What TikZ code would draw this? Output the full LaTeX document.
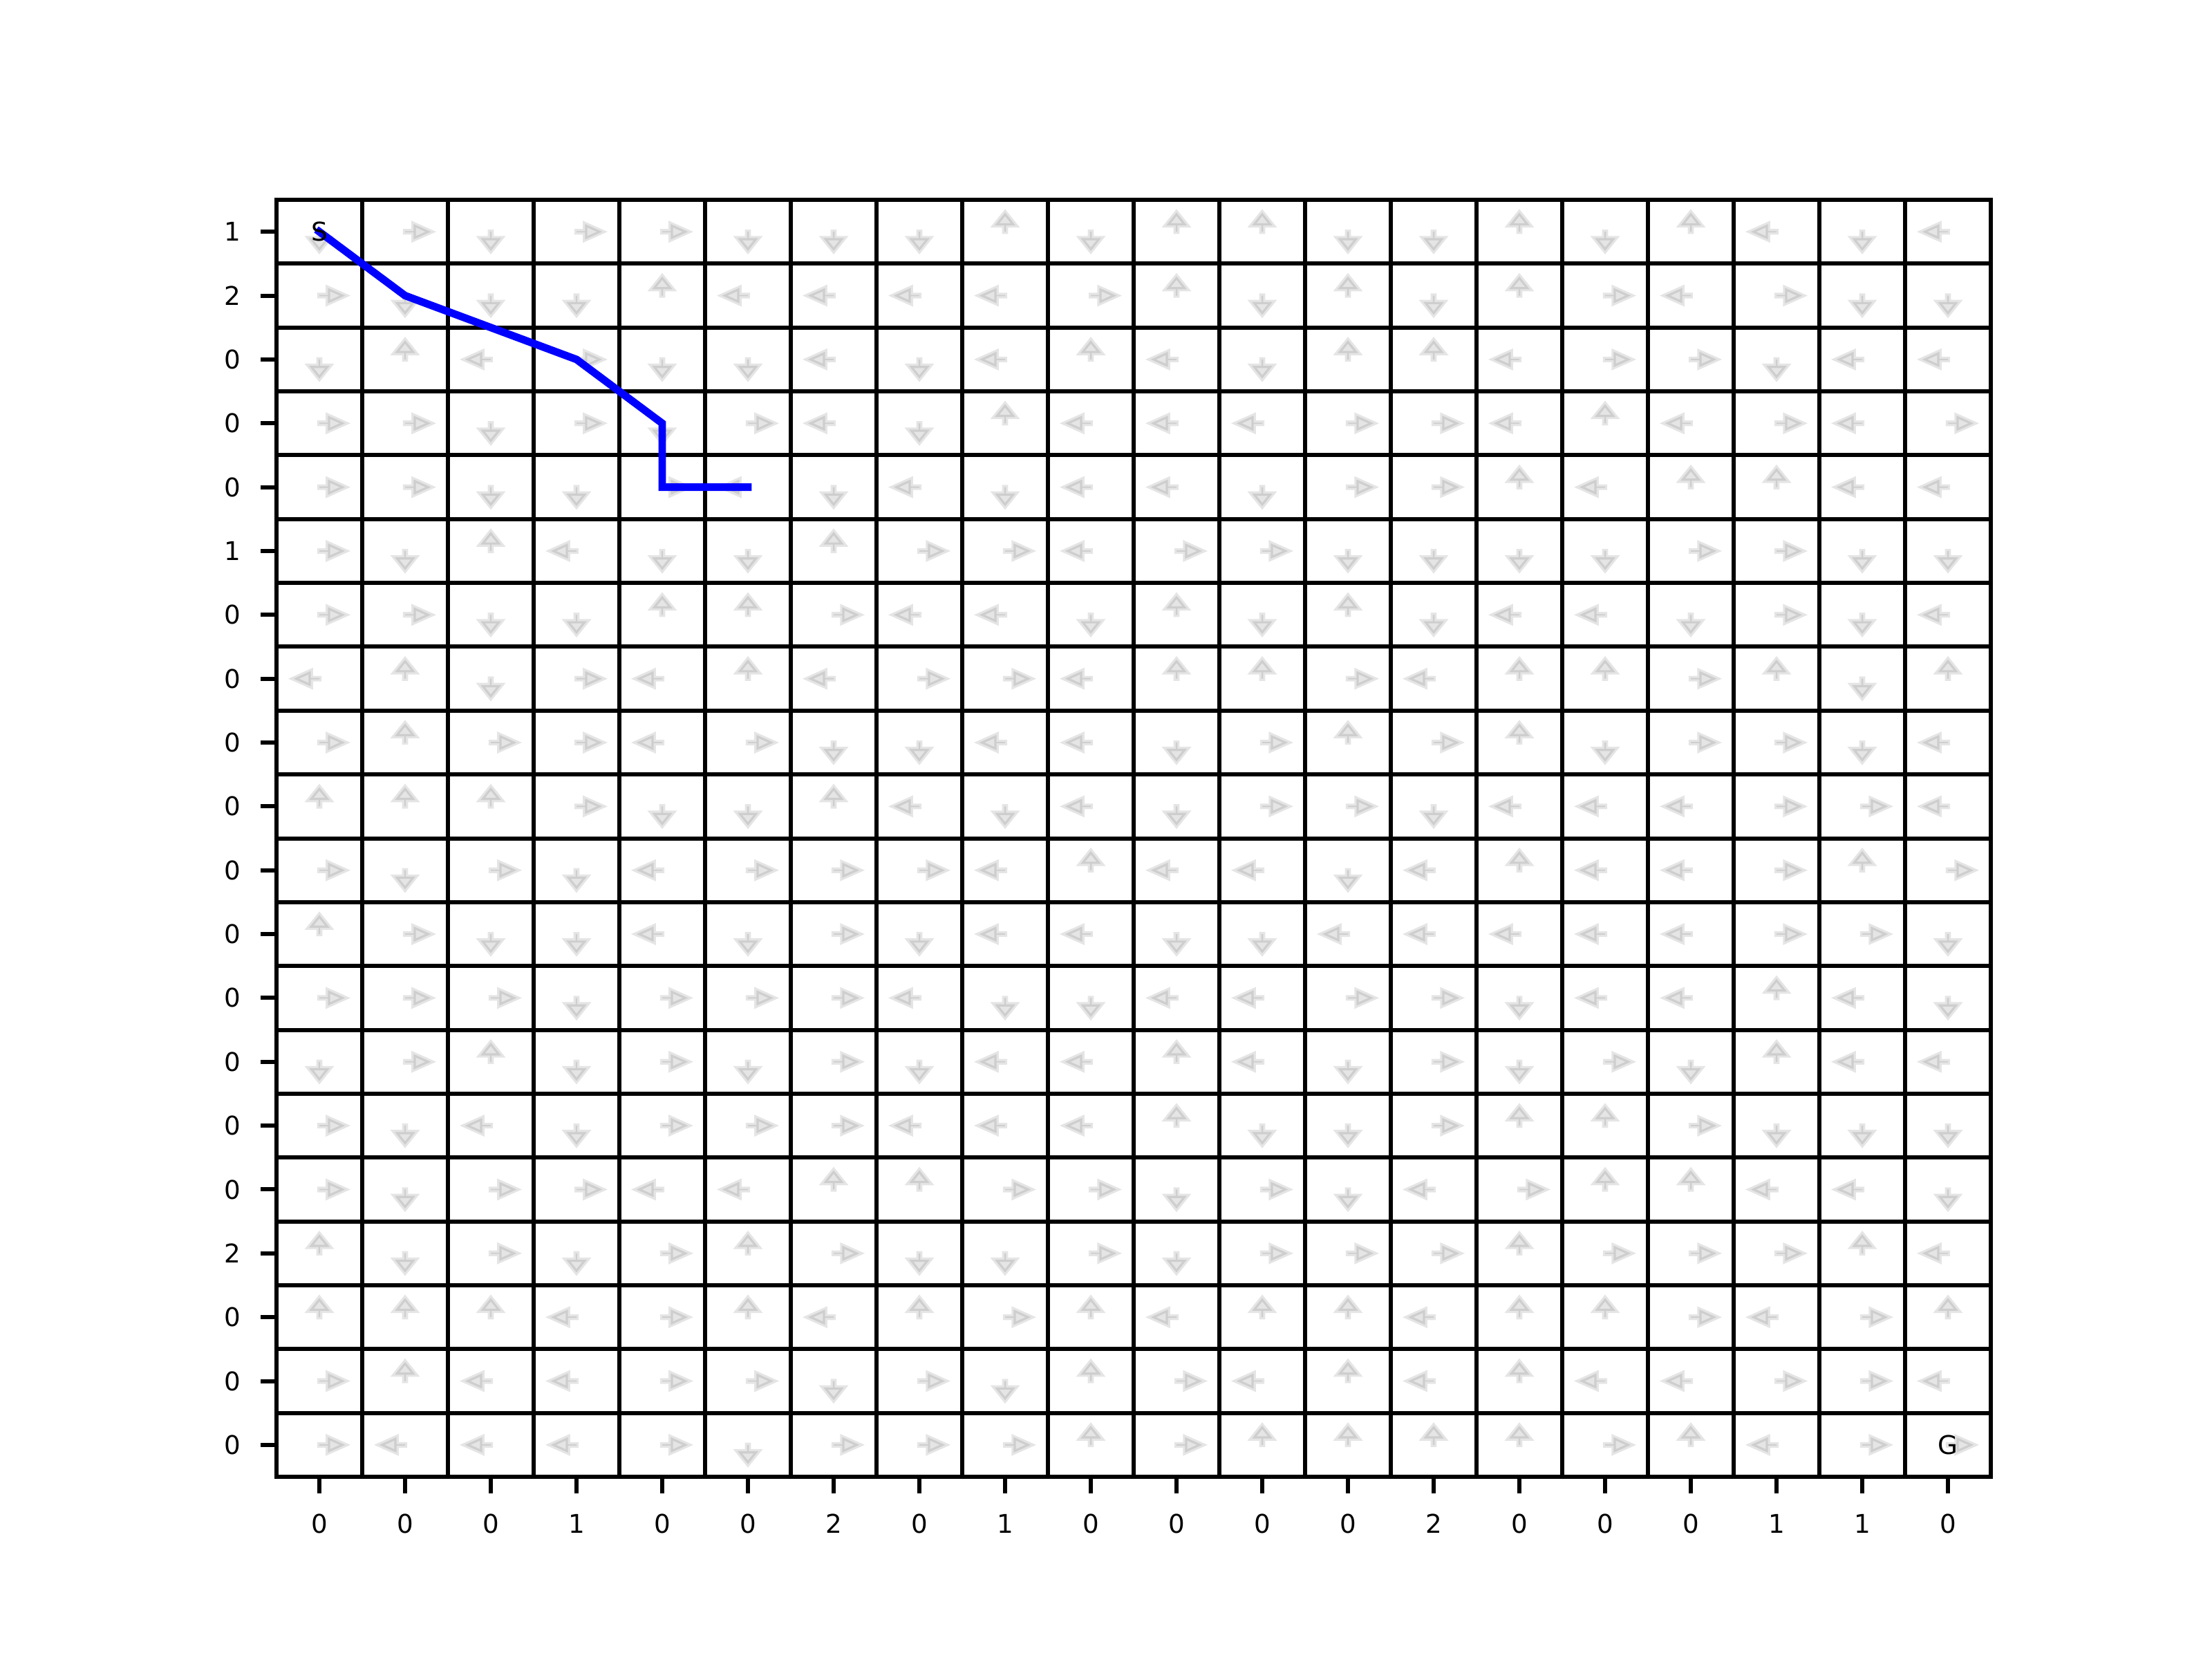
\documentclass[tikz,border=0pt]{standalone}
\usepackage{fontspec}
\setmainfont{DejaVu Sans}
\usepackage{xcolor}
\usepackage{tikz}

\begin{document}
\begin{tikzpicture}[x=0.62cm, y=-0.46175cm,
  every node/.style={font=\fontsize{5.3}{6}\selectfont, inner sep=0pt},
  cell/.style={line width=0.85pt},
  qarrow/.style={fill=black, draw=black, fill opacity=0.1, draw opacity=0.1,
    line width=0.9pt, line join=miter},
  route/.style={blue, line width=1.56pt, line cap=rect, line join=miter}]
\useasboundingbox (-2cm,1.445cm) rectangle (14cm,-10.555cm);
% policy, one row per line: 0 up, 1 right, 2 down, 3 left
\foreach \row [count=\j from 0] in {
  {2,1,2,1,1,2,2,2,0,2,0,0,2,2,0,2,0,3,2,3},
  {1,2,2,2,0,3,3,3,3,1,0,2,0,2,0,1,3,1,2,2},
  {2,0,3,1,2,2,3,2,3,0,3,2,0,0,3,1,1,2,3,3},
  {1,1,2,1,2,1,3,2,0,3,3,3,1,1,3,0,3,1,3,1},
  {1,1,2,2,1,3,2,3,2,3,3,2,1,1,0,3,0,0,3,3},
  {1,2,0,3,2,2,0,1,1,3,1,1,2,2,2,2,1,1,2,2},
  {1,1,2,2,0,0,1,3,3,2,0,2,0,2,3,3,2,1,2,3},
  {3,0,2,1,3,0,3,1,1,3,0,0,1,3,0,0,1,0,2,0},
  {1,0,1,1,3,1,2,2,3,3,2,1,0,1,0,2,1,1,2,3},
  {0,0,0,1,2,2,0,3,2,3,2,1,1,2,3,3,3,1,1,3},
  {1,2,1,2,3,1,1,1,3,0,3,3,2,3,0,3,3,1,0,1},
  {0,1,2,2,3,2,1,2,3,3,2,2,3,3,3,3,3,1,1,2},
  {1,1,1,2,1,1,1,3,2,2,3,3,1,1,2,3,3,0,3,2},
  {2,1,0,2,1,2,1,2,3,3,0,3,2,1,2,1,2,0,3,3},
  {1,2,3,2,1,1,1,3,3,3,0,2,2,1,0,0,1,2,2,2},
  {1,2,1,1,3,3,0,0,1,1,2,1,2,3,1,0,0,3,3,2},
  {0,2,1,2,1,0,1,2,2,1,2,1,1,1,0,1,1,1,0,3},
  {0,0,0,3,1,0,3,0,1,0,3,0,0,3,0,0,1,3,1,0},
  {1,0,3,3,1,1,2,1,2,0,1,3,0,3,0,3,3,1,1,3},
  {1,3,3,3,1,2,1,1,1,0,1,0,0,0,0,1,0,3,1,1}} {
  \foreach \a [count=\i from 0] in \row {
    \pgfmathsetmacro{\ux}{sin(90*\a)}
    \pgfmathsetmacro{\uy}{-cos(90*\a)}
    \pgfmathsetmacro{\px}{-\uy}
    \pgfmathsetmacro{\py}{\ux}
    \filldraw[qarrow, shift={(\i+0.5,\j+0.5)}]
      ({0.01*(\px)},{0.01*(\py)})
      -- ({0.1*(\ux)+0.01*(\px)},{0.1*(\uy)+0.01*(\py)})
      -- ({0.1*(\ux)+0.12*(\px)},{0.1*(\uy)+0.12*(\py)})
      -- ({0.3*(\ux)},{0.3*(\uy)})
      -- ({0.1*(\ux)-0.12*(\px)},{0.1*(\uy)-0.12*(\py)})
      -- ({0.1*(\ux)-0.01*(\px)},{0.1*(\uy)-0.01*(\py)})
      -- ({-0.01*(\px)},{-0.01*(\py)}) -- cycle;
  }
}
\foreach \k in {1,...,19} {
  \draw[cell] (\k,0) -- (\k,20);
  \draw[cell] (0,\k) -- (20,\k);
}
\draw[cell] (0,0) rectangle (20,20);
% axis ticks and labels
\foreach \lab [count=\j from 0] in {1,2,0,0,0,1,0,0,0,0,0,0,0,0,0,0,2,0,0,0}
  \draw[cell] (0,\j+0.5) -- ++(-0.115cm,0)
    node[anchor=east, xshift=-0.13cm] (ylab\j) {\lab};
\foreach \lab [count=\i from 0] in {0,0,0,1,0,0,2,0,1,0,0,0,0,2,0,0,0,1,1,0}
  \draw[cell] (\i+0.5,20) -- ++(0,-0.12cm)
    node[anchor=north, yshift=-0.135cm] (xlab\i) {\lab};
% route found
\coordinate (p0) at (0.5,0.5);
\coordinate (p1) at (1.5,1.5);
\coordinate (p2) at (3.5,2.5);
\coordinate (p3) at (4.5,3.5);
\coordinate (p4) at (4.5,4.5);
\coordinate (p5) at (5.5,4.5);
\draw[route] (p0) -- (p1) -- (p2) -- (p3) -- (p4) -- (p5);
\node (start) at (0.5,0.5) {S};
\node (goal) at (19.5,19.5) {G};
\end{tikzpicture}
\end{document}
